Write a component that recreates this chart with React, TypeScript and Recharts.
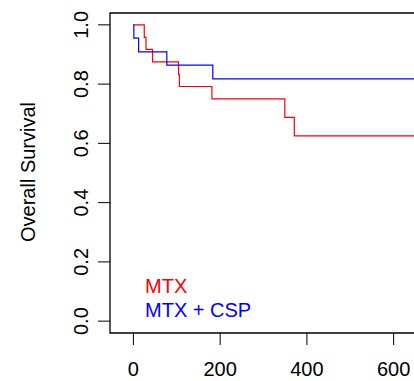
import React from 'react';
import { LineChart, Line, XAxis, YAxis, ReferenceArea, Legend } from 'recharts';

// Kaplan-Meier step estimates (time in days, survival proportion)
const mtxTimes = [0, 25, 29, 44, 104, 106, 181, 349, 371, 690];
const mtxSurv = [1, 0.958, 0.917, 0.875, 0.833, 0.792, 0.75, 0.6875, 0.625, 0.625];

const cspTimes = [0, 1, 12, 77, 183, 690];
const cspSurv = [1, 0.955, 0.909, 0.864, 0.818, 0.818];

const xTicks = [0, 200, 400, 600];
const yTicks = [0, 0.2, 0.4, 0.6, 0.8, 1];

const mtxData = mtxTimes.map((t, i) => ({ t, s: mtxSurv[i] }));
const cspData = cspTimes.map((t, i) => ({ t, s: cspSurv[i] }));

const FONT = '"Liberation Sans", Arial, Helvetica, sans-serif';
const FS = 20;

const YTick = (props: any) => {
  const { x, y, payload } = props;
  const bx = x - 10;
  return (
    <text
      x={bx}
      y={y}
      transform={`rotate(-90 ${bx} ${y})`}
      textAnchor="middle"
      fontFamily={FONT}
      fontSize={FS}
      fill="#000"
    >
      {payload.value.toFixed(1)}
    </text>
  );
};

const LegendBox = (props: any) => {
  const { payload } = props;
  return (
    <div style={{ fontFamily: FONT, fontSize: FS, lineHeight: '24px' }}>
      {(payload || []).map((p: any) => (
        <div key={p.value} style={{ color: p.color, whiteSpace: 'nowrap' }}>{p.value}</div>
      ))}
    </div>
  );
};

export default function App() {
  return (
    <div style={{ position: 'absolute', left: 0, top: 0, width: 414, height: 381, overflow: 'hidden', background: '#fff' }}>
      <LineChart width={437} height={381} margin={{ top: 13, right: 0, bottom: 0, left: 0 }}>
        <XAxis
          type="number"
          dataKey="t"
          domain={[-54, 700]}
          ticks={xTicks}
          allowDataOverflow
          axisLine={false}
          tickLine={{ stroke: '#000' }}
          tickSize={12}
          tickMargin={17}
          height={48}
          tick={{ fill: '#000', fontFamily: FONT, fontSize: FS }}
        />
        <YAxis
          type="number"
          domain={[-0.04, 1.04]}
          ticks={yTicks}
          allowDataOverflow
          axisLine={false}
          tickLine={{ stroke: '#000' }}
          tickSize={12}
          tickMargin={0}
          width={110}
          tick={<YTick />}
          label={{
            content: () => (
              <text
                x={35}
                y={172}
                transform="rotate(-90 35 172)"
                textAnchor="middle"
                fontFamily={FONT}
                fontSize={FS}
                fill="#000"
              >
                Overall Survival
              </text>
            ),
          }}
        />
        <ReferenceArea x1={-54} x2={700} y1={-0.04} y2={1.04} fill="none" stroke="#000" strokeWidth={1.3} />
        <Line
          data={mtxData}
          dataKey="s"
          name="MTX"
          type="stepAfter"
          stroke="#ff0000"
          strokeWidth={1.2}
          dot={false}
          isAnimationActive={false}
        />
        <Line
          data={cspData}
          dataKey="s"
          name="MTX + CSP"
          type="stepAfter"
          stroke="#0000ff"
          strokeWidth={1.2}
          dot={false}
          isAnimationActive={false}
        />
        <Legend
          layout="vertical"
          align="center"
          verticalAlign="middle"
          content={<LegendBox />}
          wrapperStyle={{ left: 145, top: 274, width: 'auto', height: 'auto' }}
        />
      </LineChart>
    </div>
  );
}
